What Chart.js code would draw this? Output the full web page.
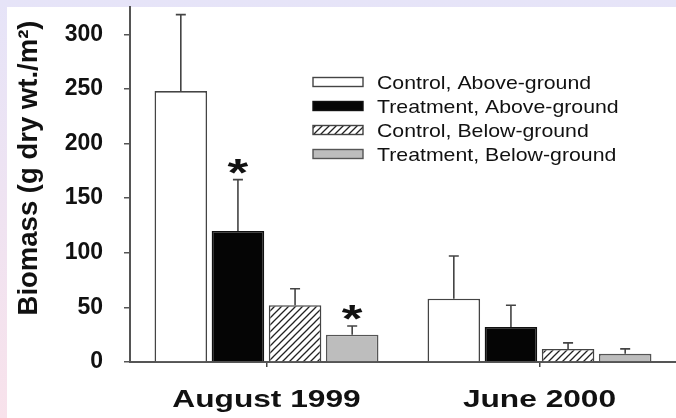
<!DOCTYPE html>
<html>
<head>
<meta charset="utf-8">
<script src="https://cdn.jsdelivr.net/npm/chart.js@4.4.0/dist/chart.umd.min.js"></script>
<style>
  body { margin: 0; background: #fff; }
  canvas { display: block; }
</style>
</head>
<body>
<canvas id="myChart" width="676" height="418"></canvas>
<script>
const categories = ['August 1999', 'June 2000'];
const seriesNames = ['Control, Above-ground', 'Treatment, Above-ground', 'Control, Below-ground', 'Treatment, Below-ground'];
const controlAbove = [248, 58];
const controlAboveErr = [70, 39];
const treatAbove = [120, 32];
const treatAboveErr = [47, 20];
const controlBelow = [52, 12];
const controlBelowErr = [15, 5.5];
const treatBelow = [25, 7.5];
const treatBelowErr = [8, 4.5];
const treatAboveSig = [true, false];
const treatBelowSig = [true, false];
const yTicks = [0, 50, 100, 150, 200, 250, 300];
const yTitle = 'Biomass (g dry wt./m\u00B2)';

function makeHatch() {
    const c = document.createElement('canvas');
    c.width = 7; c.height = 7;
    const g = c.getContext('2d');
    g.fillStyle = '#fff';
    g.fillRect(0, 0, 7, 7);
    g.strokeStyle = '#222';
    g.lineWidth = 1.3;
    g.beginPath();
    g.moveTo(-1, 8); g.lineTo(8, -1);
    g.moveTo(-1, 1); g.lineTo(1, -1);
    g.moveTo(6, 8); g.lineTo(8, 6);
    g.stroke();
    return g.createPattern(c, 'repeat');
}

// text drawn with a horizontal stretch, like the scanned figure
function stretchText(ctx, text, x, y, font, sx, align) {
    ctx.save();
    ctx.font = font;
    ctx.fillStyle = '#111';
    ctx.textBaseline = 'alphabetic';
    const w = ctx.measureText(text).width * sx;
    let left = x;
    if (align === 'center') left = x - w / 2;
    ctx.translate(left, y);
    ctx.scale(sx, 1);
    ctx.textAlign = 'left';
    ctx.fillText(text, 0, 0);
    ctx.restore();
}

const errs = [controlAboveErr, treatAboveErr, controlBelowErr, treatBelowErr];
const sigs = [null, treatAboveSig, null, treatBelowSig];

const extras = {
    id: 'extras',
    beforeDraw(chart) {
        const ctx = chart.ctx;
        const grad = ctx.createLinearGradient(0, 0, 0, chart.height);
        grad.addColorStop(0, '#e6e4f8');
        grad.addColorStop(1, '#f8e2eb');
        ctx.save();
        ctx.fillStyle = grad;
        ctx.fillRect(0, 0, chart.width, chart.height);
        ctx.fillStyle = '#fff';
        ctx.fillRect(7, 7, chart.width - 7, chart.height - 7);
        ctx.restore();
    },
    afterDatasetsDraw(chart) {
        const ctx = chart.ctx;
        const y = chart.scales.y;
        ctx.save();
        chart.data.datasets.forEach((ds, i) => {
            const meta = chart.getDatasetMeta(i);
            meta.data.forEach((bar, j) => {
                const top = y.getPixelForValue(ds.data[j] + errs[i][j]);
                ctx.strokeStyle = '#444';
                ctx.lineWidth = 1.6;
                ctx.beginPath();
                ctx.moveTo(bar.x, bar.y);
                ctx.lineTo(bar.x, top);
                ctx.moveTo(bar.x - 5, top);
                ctx.lineTo(bar.x + 5, top);
                ctx.stroke();
                if (sigs[i] && sigs[i][j]) {
                    stretchText(ctx, '*', bar.x, top + 6, 'bold 38px "Liberation Sans", Arial', 1.4, 'center');
                }
            });
        });
        ctx.restore();
    },
    afterDraw(chart) {
        const ctx = chart.ctx;
        // legend
        const rows = [82, 106, 130, 154];
        chart.data.datasets.forEach((ds, i) => {
            ctx.save();
            ctx.fillStyle = ds.backgroundColor;
            ctx.strokeStyle = ds.borderColor;
            ctx.lineWidth = 1.4;
            ctx.fillRect(313, rows[i] - 4.5, 50, 9);
            ctx.strokeRect(313, rows[i] - 4.5, 50, 9);
            ctx.restore();
            stretchText(ctx, ds.label, 377, rows[i] + 7, '19px "Liberation Sans", Arial', 1.12, 'left');
        });
        // category labels
        const x = chart.scales.x;
        categories.forEach((c, i) => {
            stretchText(ctx, c, x.getPixelForValue(i), 407, 'bold 24px "Liberation Sans", Arial', 1.32, 'center');
        });
        // y axis title
        ctx.save();
        ctx.translate(37, 168);
        ctx.rotate(-Math.PI / 2);
        ctx.font = 'bold 27.5px "Liberation Sans", Arial';
        ctx.fillStyle = '#111';
        ctx.textAlign = 'center';
        ctx.textBaseline = 'alphabetic';
        ctx.fillText(yTitle, 0, 0);
        ctx.restore();
    }
};

const config = {
    type: 'bar',
    data: {
        labels: categories,
        datasets: [
            { label: seriesNames[0], data: controlAbove, backgroundColor: '#ffffff', borderColor: '#444' },
            { label: seriesNames[1], data: treatAbove, backgroundColor: '#050505', borderColor: '#111' },
            { label: seriesNames[2], data: controlBelow, backgroundColor: makeHatch(), borderColor: '#444' },
            { label: seriesNames[3], data: treatBelow, backgroundColor: '#bdbdbd', borderColor: '#555' }
        ].map(d => Object.assign(d, {
            borderWidth: 1.6,
            categoryPercentage: 0.837,
            barPercentage: 0.92
        }))
    },
    options: {
        responsive: false,
        animation: false,
        devicePixelRatio: 1,
        layout: { autoPadding: false, padding: { top: 7, left: 0, right: -5, bottom: 0 } },
        scales: {
            x: {
                grid: { drawOnChartArea: false, offset: false, tickLength: 5, color: '#444', lineWidth: 1.5 },
                border: { color: '#555', width: 2 },
                ticks: { color: 'rgba(0,0,0,0)' },
                afterFit: (s) => {
                    s.height = 56;
                    s.paddingLeft = 0; s.paddingRight = 0;
                }
            },
            y: {
                min: 0,
                max: 325,
                afterBuildTicks: (s) => { s.ticks = yTicks.map(v => ({ value: v })); },
                grid: { drawOnChartArea: false, tickLength: 6, color: '#555', lineWidth: 1.5 },
                border: { color: '#555', width: 2 },
                ticks: {
                    padding: 21,
                    color: '#111',
                    font: { family: '"Liberation Sans", Arial', size: 23, weight: 'bold' }
                },
                afterFit: (s) => {
                    s.width = 130;
                    s.paddingTop = 0; s.paddingBottom = 0;
                }
            }
        },
        plugins: {
            legend: { display: false },
            tooltip: { enabled: false }
        }
    },
    plugins: [extras]
};

window.addEventListener('load', () => {
    const ctx = document.getElementById('myChart').getContext('2d');
    new Chart(ctx, config);
});
</script>
</body>
</html>
